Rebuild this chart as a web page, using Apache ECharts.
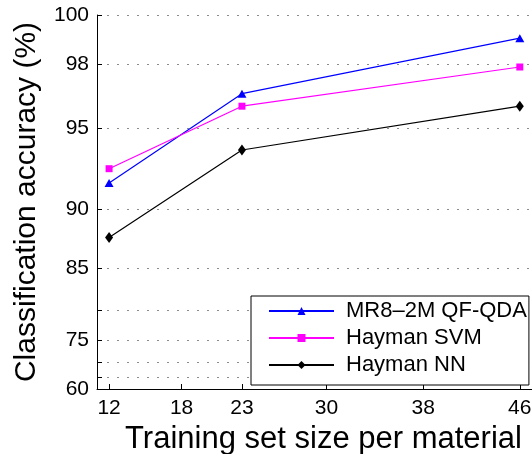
<!DOCTYPE html>
<html>
<head>
<meta charset="utf-8">
<style>
  html, body { margin: 0; padding: 0; background: #fff; }
  #chart { width: 532px; height: 454px; }
</style>
<script src="https://cdn.jsdelivr.net/npm/echarts@6/dist/echarts.min.js"></script>
</head>
<body>
<div id="chart"></div>
<script>
// Training set sizes (per material) and classification accuracy (%)
const sizes = [12, 23, 46];
const qfQda = [91.8, 96.7, 99.1];
const haymanSvm = [92.7, 96.1, 97.9];
const haymanNn = [87.8, 93.8, 96.1];

const seriesNames = ['MR8\u20132M QF-QDA', 'Hayman SVM', 'Hayman NN'];

const xTickValues = [12, 18, 23, 30, 38, 46];
const yLabelValues = [60, 75, 85, 90, 95, 98, 100];
const yGridValues = [60, 65, 70, 75, 80, 85, 90, 95, 98, 100];

// Accuracy axis is stretched towards the top: position grows as 10^(acc/35)
const toAxis = acc => Math.pow(10, acc / 35);
const fromAxis = v => 35 * Math.log10(v);

const FONT = '"Liberation Sans", Arial, Helvetica, sans-serif';

function pairs(values) {
  return sizes.map((s, i) => [s, toAxis(values[i])]);
}

const chart = echarts.init(document.getElementById('chart'), null, { renderer: 'canvas' });

chart.setOption({
  animation: false,
  backgroundColor: '#ffffff',
  textStyle: { fontFamily: FONT },
  grid: {
    left: 97, right: -18, top: 15, bottom: 65,
    containLabel: false,
    outerBoundsMode: 'none'
  },
  xAxis: {
    type: 'value',
    min: 11,
    max: 48.5,
    name: 'Training set size per material',
    nameLocation: 'middle',
    nameGap: 34,
    nameTextStyle: { fontSize: 31, color: '#000', fontFamily: FONT },
    axisLine: { show: true, lineStyle: { color: '#000', width: 1 } },
    axisTick: { show: true, inside: true, length: 5, customValues: xTickValues, lineStyle: { color: '#000' } },
    axisLabel: { customValues: xTickValues, fontSize: 21, color: '#000', margin: 9, fontFamily: FONT },
    splitLine: { show: false }
  },
  yAxis: {
    type: 'value',
    min: toAxis(60),
    max: toAxis(100),
    name: 'Classification accuracy (%)',
    nameLocation: 'middle',
    nameGap: 55,
    nameTextStyle: { fontSize: 30, color: '#000', fontFamily: FONT },
    axisLine: { show: true, lineStyle: { color: '#000', width: 1 } },
    axisTick: {
      show: true, inside: true, length: 5,
      customValues: yGridValues.map(toAxis),
      lineStyle: { color: '#000' }
    },
    axisLabel: {
      customValues: yLabelValues.map(toAxis),
      formatter: v => String(Math.round(fromAxis(v))),
      fontSize: 21, color: '#000', margin: 8, fontFamily: FONT
    },
    splitLine: {
      show: true,
      lineStyle: { color: '#8c8c8c', width: 1, type: [2, 8] }
    }
  },
  legend: {
    show: true,
    orient: 'vertical',
    left: 251,
    top: 296,
    selectedMode: false,
    backgroundColor: '#ffffff',
    borderColor: '#000',
    borderWidth: 1,
    borderRadius: 0,
    padding: [4, 2, 9, 17],
    itemGap: 5,
    itemWidth: 65,
    itemHeight: 10,
    textStyle: { fontSize: 22, color: '#000', fontFamily: FONT, padding: [0, 0, 0, 7] },
    data: seriesNames
  },
  series: [
    {
      name: seriesNames[0],
      type: 'line',
      data: pairs(qfQda),
      symbol: 'triangle',
      symbolSize: [9, 8],
      color: '#0000ff',
      lineStyle: { color: '#0000ff', width: 1.2 },
      itemStyle: { color: '#0000ff' },
      z: 3
    },
    {
      name: seriesNames[1],
      type: 'line',
      data: pairs(haymanSvm),
      symbol: 'rect',
      symbolSize: 7,
      color: '#ff00ff',
      lineStyle: { color: '#ff00ff', width: 1.2 },
      itemStyle: { color: '#ff00ff' },
      z: 3
    },
    {
      name: seriesNames[2],
      type: 'line',
      data: pairs(haymanNn),
      symbol: 'diamond',
      symbolSize: [8, 11],
      color: '#000000',
      lineStyle: { color: '#000000', width: 1.2 },
      itemStyle: { color: '#000000' },
      z: 3
    }
  ]
});
</script>
</body>
</html>
